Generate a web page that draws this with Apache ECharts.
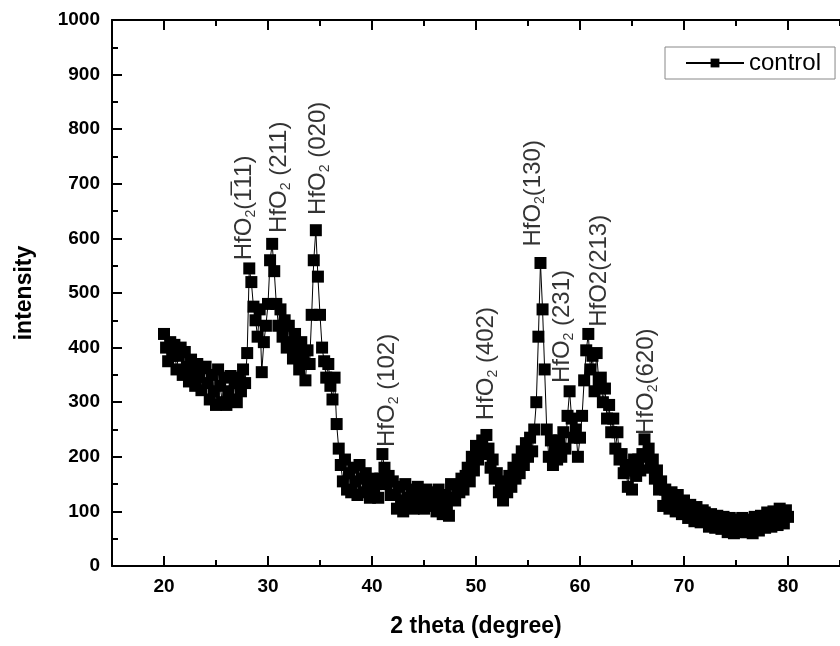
<!DOCTYPE html>
<html><head><meta charset="utf-8">
<script src="https://cdn.jsdelivr.net/npm/echarts@6/dist/echarts.min.js"></script>
<style>html,body{margin:0;padding:0;background:#fff}#c{width:840px;height:646px}</style>
</head><body><div id="c"></div>
<script>
// XRD scan: 2-theta from 20 to 80 deg, instrument step 0.2 deg
const twoThetaStart = 20;
const twoThetaStep = 0.2;
const intensity = [
  425, 400, 375, 410, 385, 405, 360, 385, 400, 350,
  392, 365, 338, 378, 350, 330, 370, 345, 322, 362,
  365, 335, 305, 350, 320, 295, 360, 330, 300, 345,
  295, 320, 348, 305, 335, 300, 345, 320, 360, 335,
  390, 545, 520, 475, 450, 420, 470, 355, 410, 440,
  480, 560, 590, 540, 480, 440, 470, 420, 450, 400,
  440, 410, 380, 425, 395, 360, 410, 375, 340, 395,
  370, 460, 560, 615, 530, 460, 400, 375, 345, 370,
  330, 305, 345, 260, 215, 185, 155, 195, 140, 170,
  135, 180, 155, 130, 185, 160, 135, 170, 150, 125,
  160, 135, 150, 125, 160, 205, 180, 150, 165, 130,
  155, 130, 105, 145, 120, 100, 150, 125, 110, 140,
  105, 125, 145, 115, 135, 105, 140, 120, 110, 135,
  125, 100, 140, 115, 95, 130, 110, 92, 150, 125,
  120, 145, 135, 160, 140, 165, 180, 155, 200, 175,
  220, 195, 210, 230, 205, 240, 215, 180, 195, 160,
  170, 135, 150, 120, 155, 135, 165, 145, 180, 160,
  195, 170, 210, 185, 225, 200, 235, 210, 250, 300,
  420, 555, 470, 360, 250, 200, 230, 185, 215, 195,
  230, 200, 245, 215, 275, 320, 270, 235, 250, 200,
  235, 275, 340, 395, 425, 360, 385, 320, 390, 340,
  345, 300, 325, 270, 295, 245, 270, 215, 245, 195,
  205, 170, 185, 145, 175, 140, 195, 165, 195, 175,
  205, 232, 200, 215, 180, 195, 160, 175, 140, 155,
  110, 140, 125, 105, 135, 115, 100, 130, 110, 95,
  120, 100, 88, 112, 95, 82, 108, 92, 80, 102,
  98, 85, 72, 95, 80, 70, 92, 78, 68, 90,
  75, 62, 88, 72, 60, 85, 70, 62, 88, 75,
  62, 85, 72, 60, 90, 75, 65, 92, 80, 70,
  98, 82, 72, 100, 85, 75, 105, 88, 78, 102,
  90
];
const seriesName = 'control';
const xMajorTicks = [20, 30, 40, 50, 60, 70, 80];
const xMinorTicks = [15, 25, 35, 45, 55, 65, 75, 85];
const peakX = [27.7, 31.05, 34.85, 41.5, 51.0, 55.5, 58.3, 61.9, 66.4];
const peakY = [560, 610, 643, 218, 267, 585, 335, 438, 240];
const peakText = [
  '{n|HfO}{s|2}{n|(1\u030511)}',
  '{n|HfO}{s|2}{n| (211)}',
  '{n|HfO}{s|2}{n| (020)}',
  '{n|HfO}{s|2}{n| (102)}',
  '{n|HfO}{s|2}{n| (402)}',
  '{n|HfO}{s|2}{n|(130)}',
  '{n|HfO}{s|2}{n| (231)}',
  '{n|HfO2(213)}',
  '{n|HfO}{s|2}{n|(620)}'
];

const F = "'Liberation Sans', Arial, Helvetica, sans-serif";
const points = intensity.map((v, i) => [+(twoThetaStart + i * twoThetaStep).toFixed(2), v]);

function xAx(pos, ticks, len, main) {
  return {
    type: 'value', position: pos, min: 15, max: 85, interval: 5,
    splitLine: { show: false },
    axisLine: { show: main, onZero: false, lineStyle: { color: '#000', width: 2 } },
    axisTick: { show: true, inside: true, length: len, customValues: ticks, lineStyle: { color: '#000', width: 2 } },
    axisLabel: (main && pos === 'bottom') ? { show: true, customValues: ticks, margin: 11, color: '#000', fontFamily: F, fontWeight: 'bold', fontSize: 19 } : { show: false },
    name: (main && pos === 'bottom') ? '2 theta (degree)' : '',
    nameLocation: 'middle', nameGap: 49,
    nameTextStyle: { color: '#000', fontFamily: F, fontWeight: 'bold', fontSize: 23 }
  };
}

const chart = echarts.init(document.getElementById('c'), null, { renderer: 'canvas' });
chart.setOption({
  animation: false,
  backgroundColor: '#fff',
  grid: { left: 112, right: -6, top: 20, bottom: 80, containLabel: false },
  legend: {
    data: [seriesName], left: 665, top: 47, orient: 'horizontal',
    borderColor: '#888', borderWidth: 1, borderRadius: 0,
    padding: [4, 14, 4, 20], itemWidth: 58, itemHeight: 11,
    textStyle: { fontFamily: F, fontSize: 24, color: '#000' }
  },
  xAxis: [
    xAx('bottom', xMajorTicks, 10, true),
    xAx('bottom', xMinorTicks, 6, false),
    xAx('top', xMajorTicks, 10, true),
    xAx('top', xMinorTicks, 6, false)
  ],
  yAxis: [{
    type: 'value', min: 0, max: 1000, interval: 100,
    splitLine: { show: false },
    axisLine: { show: true, onZero: false, lineStyle: { color: '#000', width: 2 } },
    axisTick: { show: true, inside: true, length: 10, lineStyle: { color: '#000', width: 2 } },
    minorTick: { show: true, splitNumber: 2, length: 6, lineStyle: { color: '#000', width: 2 } },
    axisLabel: { margin: 12, color: '#000', fontFamily: F, fontWeight: 'bold', fontSize: 19, formatter: v => String(v) },
    name: 'intensity', nameLocation: 'middle', nameGap: 76,
    nameTextStyle: { color: '#000', fontFamily: F, fontWeight: 'bold', fontSize: 23 }
  }],
  series: [
    {
      name: seriesName, type: 'line', xAxisIndex: 0, yAxisIndex: 0,
      data: points, symbol: 'rect', symbolSize: 12, showSymbol: true,
      itemStyle: { color: '#000' }, lineStyle: { color: '#000', width: 1 },
      emphasis: { disabled: true }
    },
    {
      name: 'peaks', type: 'scatter', xAxisIndex: 0, yAxisIndex: 0, symbolSize: 0, silent: true, z: 10,
      data: peakX.map((x, i) => ({ value: [x, peakY[i]], label: { formatter: peakText[i] } })),
      label: {
        show: true, position: 'inside', rotate: 90, align: 'left', verticalAlign: 'middle',
        rich: {
          n: { fontFamily: F, fontSize: 24, color: '#000', lineHeight: 28 },
          s: { fontFamily: F, fontSize: 14, color: '#000', lineHeight: 28, verticalAlign: 'bottom' }
        }
      }
    }
  ]
});
</script></body></html>
